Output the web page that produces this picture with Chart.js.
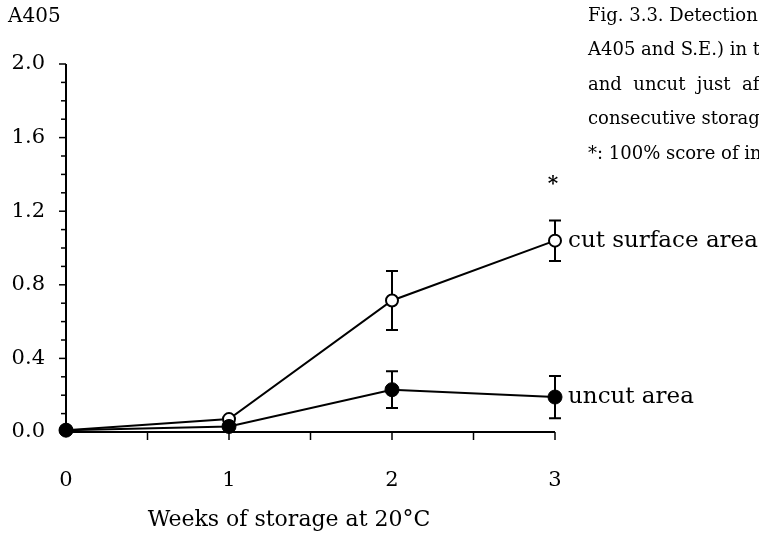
<!DOCTYPE html>
<html>
<head>
<meta charset="utf-8">
<script src="https://cdn.jsdelivr.net/npm/chart.js@4/dist/chart.umd.min.js"></script>
<style>
  html, body { margin: 0; padding: 0; background: #fff; }
  #chart { display: block; }
</style>
</head>
<body>
<canvas id="chart" width="759" height="543"></canvas>
<script>
// weeks of storage at 20°C
const weeks = [0, 1, 2, 3];
// mean A405 and S.E.
const cutMean = [0.01, 0.07, 0.715, 1.04];
const cutSE = [0, 0, 0.16, 0.11];
const uncutMean = [0.01, 0.03, 0.23, 0.19];
const uncutSE = [0, 0, 0.10, 0.115];
const seriesNames = ['cut surface area', 'uncut area'];
const yTicks = [0, 0.4, 0.8, 1.2, 1.6, 2.0];
const xTicks = [0, 1, 2, 3];
const yAxisLabel = 'A405';
const xAxisLabel = 'Weeks of storage at 20°C';
const caption = [
  'Fig. 3.3. Detection of',
  'A405 and S.E.) in the',
  'and  uncut  just  after',
  'consecutive storage at',
  '*: 100% score of infection'
];

const SERIF = '"DejaVu Serif", "Liberation Serif", serif';

// axes, minor ticks, error bars and text
const decorations = {
  id: 'decorations',
  beforeDatasetsDraw(chart) {
    const ctx = chart.ctx;
    const x = chart.scales.x, y = chart.scales.y;
    const x0 = x.getPixelForValue(0), x3 = x.getPixelForValue(3);
    const y0 = y.getPixelForValue(0), y2 = y.getPixelForValue(2);
    ctx.save();
    ctx.strokeStyle = '#000';
    ctx.lineWidth = 2;
    ctx.beginPath();
    ctx.moveTo(x0, y2);
    ctx.lineTo(x0, y0);
    ctx.lineTo(x3, y0);
    ctx.stroke();
    // y ticks every 0.1
    ctx.lineWidth = 1.5;
    for (let i = 0; i <= 20; i++) {
      const py = y.getPixelForValue(i / 10);
      const len = i % 4 === 0 ? 7 : 5;
      ctx.beginPath();
      ctx.moveTo(x0 - len, py);
      ctx.lineTo(x0, py);
      ctx.stroke();
    }
    // x ticks every 0.5
    for (let i = 1; i <= 6; i++) {
      const px = x.getPixelForValue(i / 2);
      ctx.beginPath();
      ctx.moveTo(px, y0);
      ctx.lineTo(px, y0 + 8);
      ctx.stroke();
    }
    // error bars
    ctx.lineWidth = 2;
    const bars = [[cutMean, cutSE], [uncutMean, uncutSE]];
    bars.forEach(([m, se]) => {
      weeks.forEach((w, i) => {
        if (!se[i]) return;
        const px = x.getPixelForValue(w);
        const top = y.getPixelForValue(m[i] + se[i]);
        const bot = y.getPixelForValue(m[i] - se[i]);
        ctx.beginPath();
        ctx.moveTo(px, top); ctx.lineTo(px, bot);
        ctx.moveTo(px - 6, top); ctx.lineTo(px + 6, top);
        ctx.moveTo(px - 6, bot); ctx.lineTo(px + 6, bot);
        ctx.stroke();
      });
    });
    ctx.restore();
  },
  afterDraw(chart) {
    const ctx = chart.ctx;
    const x = chart.scales.x, y = chart.scales.y;
    const last = weeks.length - 1;
    const px = x.getPixelForValue(weeks[last]);
    ctx.save();
    ctx.fillStyle = '#000';
    ctx.textBaseline = 'middle';
    ctx.textAlign = 'left';
    ctx.font = '23px ' + SERIF;
    ctx.fillText(seriesNames[0], px + 13, y.getPixelForValue(cutMean[last]));
    ctx.fillText(seriesNames[1], px + 13, y.getPixelForValue(uncutMean[last]));
    ctx.font = '20px ' + SERIF;
    ctx.fillText(yAxisLabel, 8, 17);
    ctx.textAlign = 'center';
    ctx.font = '22px ' + SERIF;
    ctx.fillText(xAxisLabel, 289, 520);
    ctx.font = 'bold 20px ' + SERIF;
    ctx.fillText('*', px - 2, y.getPixelForValue(cutMean[last] + cutSE[last]) - 36);
    ctx.textAlign = 'left';
    ctx.font = '18px ' + SERIF;
    caption.forEach((t, i) => ctx.fillText(t, 588, 16 + i * 34.5));
    ctx.restore();
  }
};

const toPoints = (m) => weeks.map((w, i) => ({ x: w, y: m[i] }));

new Chart(document.getElementById('chart').getContext('2d'), {
  type: 'line',
  data: {
    datasets: [
      {
        label: seriesNames[0],
        data: toPoints(cutMean),
        order: 2,
        clip: false,
        borderColor: '#000',
        borderWidth: 2,
        pointRadius: 6,
        pointBorderWidth: 2,
        pointBackgroundColor: '#fff',
        pointBorderColor: '#000',
        tension: 0
      },
      {
        label: seriesNames[1],
        data: toPoints(uncutMean),
        order: 1,
        clip: false,
        borderColor: '#000',
        borderWidth: 2,
        pointRadius: 7,
        pointBorderWidth: 1,
        pointBackgroundColor: '#000',
        pointBorderColor: '#000',
        tension: 0
      }
    ]
  },
  options: {
    responsive: false,
    animation: false,
    layout: { padding: { top: 64, right: 204, left: 0, bottom: 0 } },
    plugins: { legend: { display: false }, tooltip: { enabled: false } },
    scales: {
      x: {
        type: 'linear',
        min: 0,
        max: 3,
        grid: { display: false },
        border: { display: false },
        afterBuildTicks: (s) => { s.ticks = xTicks.map(v => ({ value: v })); },
        ticks: { color: '#000', padding: 28, font: { family: SERIF, size: 21 } },
        afterFit: (s) => { s.height = 111; }
      },
      y: {
        min: 0,
        max: 2,
        grid: { display: false },
        border: { display: false },
        afterBuildTicks: (s) => { s.ticks = yTicks.map(v => ({ value: v })); },
        ticks: { color: '#000', padding: 13, font: { family: SERIF, size: 21 },
                 callback: (v) => v.toFixed(1) },
        afterFit: (s) => { s.width = 66; }
      }
    }
  },
  plugins: [decorations]
});
</script>
</body>
</html>
